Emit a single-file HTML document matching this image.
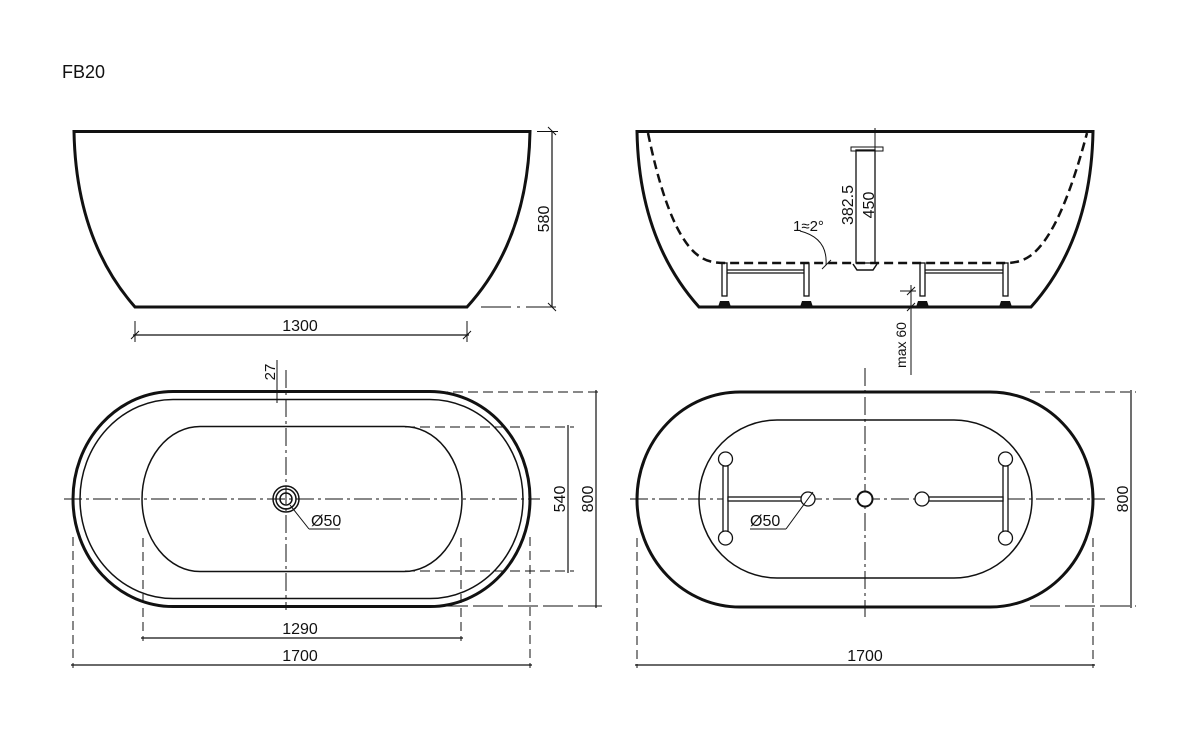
<!DOCTYPE html>
<html><head><meta charset="utf-8"><style>
html,body{margin:0;padding:0;background:#fff;}
svg{display:block;}
text{font-family:"Liberation Sans",sans-serif;fill:#111;}
</style></head><body>
<svg width="1200" height="754" viewBox="0 0 1200 754" xmlns="http://www.w3.org/2000/svg">
<g fill="none" stroke="#111" stroke-linecap="butt">
<text x="62" y="78" font-size="18" stroke="none">FB20</text>

<!-- Left side view -->
<path d="M74 131.5 L530 131.5 Q528 240 467 307 L135 307 Q76 240 74 131.5 Z" stroke-width="3"/>
<line x1="537" y1="131.5" x2="558" y2="131.5" stroke-width="1"/>
<line x1="481" y1="307" x2="557" y2="307" stroke-width="1" stroke-dasharray="30 6 3 6"/>
<line x1="552" y1="131" x2="552" y2="307" stroke-width="1.2"/>
<line x1="548" y1="127" x2="556" y2="135" stroke-width="1"/>
<line x1="548" y1="303" x2="556" y2="311" stroke-width="1"/>
<text transform="translate(549,219) rotate(-90)" font-size="16" text-anchor="middle" stroke="none">580</text>
<line x1="135" y1="321" x2="135" y2="342" stroke-width="1"/>
<line x1="467" y1="321" x2="467" y2="342" stroke-width="1"/>
<line x1="133" y1="335" x2="469" y2="335" stroke-width="1.2"/>
<line x1="131" y1="339" x2="139" y2="331" stroke-width="1"/>
<line x1="463" y1="339" x2="471" y2="331" stroke-width="1"/>
<text x="300" y="331" font-size="16" text-anchor="middle" stroke="none">1300</text>

<!-- Right side view -->
<path d="M637 131.5 L1093 131.5 Q1091 240 1031 307 L699 307 Q639 240 637 131.5 Z" stroke-width="3"/>
<path d="M648 133 Q670 240 702 258 Q710 263 725 263 L1006 263 Q1020 263 1030 256 Q1060 235 1087 133" stroke-width="2.5" stroke-dasharray="9 5"/>
<rect x="856" y="150" width="19" height="113" stroke-width="1.3"/>
<rect x="851" y="147" width="32" height="4" stroke-width="1"/>
<path d="M853 264 L857 270 L873 270 L877 264" stroke-width="1.5"/>
<line x1="875" y1="128" x2="875" y2="263" stroke-width="1"/>
<text transform="translate(853,205) rotate(-90)" font-size="16" text-anchor="middle" stroke="none">382.5</text>
<text transform="translate(874,205) rotate(-90)" font-size="16" text-anchor="middle" stroke="none">450</text>
<text x="793" y="231" font-size="15" stroke="none">1≈2°</text>
<path d="M800 231 Q828 238 826 265" stroke-width="1"/>
<line x1="822" y1="269" x2="831" y2="260" stroke-width="1"/>
<g stroke-width="1.3">
<rect x="722" y="263" width="5" height="33"/><rect x="804" y="263" width="5" height="33"/>
<line x1="727" y1="270" x2="804" y2="270"/><line x1="727" y1="273" x2="804" y2="273"/>
<rect x="920" y="263" width="5" height="33"/><rect x="1003" y="263" width="5" height="33"/>
<line x1="925" y1="270" x2="1003" y2="270"/><line x1="925" y1="273" x2="1003" y2="273"/>
</g>
<g fill="#111" stroke="none">
<path d="M718 307 L720 301 L729 301 L731 307Z"/><path d="M800 307 L802 301 L811 301 L813 307Z"/>
<path d="M916 307 L918 301 L927 301 L929 307Z"/><path d="M999 307 L1001 301 L1010 301 L1012 307Z"/>
</g>
<line x1="900" y1="291" x2="916" y2="291" stroke-width="1"/>
<line x1="911" y1="285" x2="911" y2="375" stroke-width="1"/>
<line x1="907" y1="295" x2="915" y2="287" stroke-width="1"/>
<line x1="907" y1="311" x2="915" y2="303" stroke-width="1"/>
<text transform="translate(906,345) rotate(-90)" font-size="14" text-anchor="middle" stroke="none">max 60</text>

<!-- Left top view -->
<path d="M173 391.5 L430 391.5 A100 107.5 0 0 1 430 606.5 L173 606.5 A100 107.5 0 0 1 173 391.5 Z" stroke-width="3"/>
<path d="M173 399.5 L430 399.5 A93 99.5 0 0 1 430 598.5 L173 598.5 A93 99.5 0 0 1 173 399.5 Z" stroke-width="1.5"/>
<path d="M200 426.5 L404 426.5 A58 72.5 0 0 1 404 571.5 L200 571.5 A58 72.5 0 0 1 200 426.5 Z" stroke-width="1.5"/>
<line x1="64" y1="499" x2="540" y2="499" stroke-width="1" stroke-dasharray="18 4 3 4"/>
<line x1="286" y1="370" x2="286" y2="610" stroke-width="1" stroke-dasharray="18 4 3 4"/>
<circle cx="286" cy="499" r="13" stroke-width="1.5"/>
<circle cx="286" cy="499" r="10" stroke-width="1.5"/>
<circle cx="286" cy="499" r="6" stroke-width="1.5"/>
<line x1="290" y1="505" x2="309" y2="529" stroke-width="1"/>
<line x1="309" y1="529" x2="340" y2="529" stroke-width="1"/>
<text x="311" y="526" font-size="16" stroke="none">Ø50</text>
<line x1="277" y1="360" x2="277" y2="403" stroke-width="1"/>
<text transform="translate(275,372) rotate(-90)" font-size="15" text-anchor="middle" stroke="none">27</text>
<line x1="405" y1="427" x2="574" y2="427" stroke-width="1" stroke-dasharray="10 5"/>
<line x1="405" y1="571" x2="574" y2="571" stroke-width="1" stroke-dasharray="10 5"/>
<line x1="568" y1="425" x2="568" y2="573" stroke-width="1.2"/>
<text transform="translate(565,499) rotate(-90)" font-size="16" text-anchor="middle" stroke="none">540</text>
<line x1="438" y1="392" x2="602" y2="392" stroke-width="1" stroke-dasharray="10 5"/>
<line x1="438" y1="606" x2="602" y2="606" stroke-width="1" stroke-dasharray="30 5"/>
<line x1="596" y1="390" x2="596" y2="608" stroke-width="1.2"/>
<text transform="translate(593,499) rotate(-90)" font-size="16" text-anchor="middle" stroke="none">800</text>
<line x1="73" y1="537" x2="73" y2="668" stroke-width="1" stroke-dasharray="9 5"/>
<line x1="530" y1="537" x2="530" y2="668" stroke-width="1" stroke-dasharray="9 5"/>
<line x1="143" y1="538" x2="143" y2="641" stroke-width="1" stroke-dasharray="9 5"/>
<line x1="461" y1="538" x2="461" y2="641" stroke-width="1" stroke-dasharray="9 5"/>
<line x1="141" y1="638" x2="463" y2="638" stroke-width="1.2"/>
<line x1="71" y1="665" x2="532" y2="665" stroke-width="1.2"/>
<text x="300" y="634" font-size="16" text-anchor="middle" stroke="none">1290</text>
<text x="300" y="661" font-size="16" text-anchor="middle" stroke="none">1700</text>

<!-- Right top view -->
<path d="M740 392 L990 392 A103 107.5 0 0 1 990 607 L740 607 A103 107.5 0 0 1 740 392 Z" stroke-width="3"/>
<path d="M777 420 L954 420 A78 79 0 0 1 954 578 L777 578 A78 79 0 0 1 777 420 Z" stroke-width="1.5"/>
<line x1="630" y1="499" x2="1105" y2="499" stroke-width="1" stroke-dasharray="18 4 3 4"/>
<line x1="865" y1="368" x2="865" y2="617" stroke-width="1" stroke-dasharray="18 4 3 4"/>
<g stroke-width="1.3" fill="#fff">
<rect x="723" y="466" width="5" height="66"/><rect x="1003" y="466" width="5" height="66"/>
<rect x="728" y="497" width="75" height="4"/><rect x="927" y="497" width="76" height="4"/>
<circle cx="725.5" cy="459" r="7"/><circle cx="725.5" cy="538" r="7"/>
<circle cx="1005.5" cy="459" r="7"/><circle cx="1005.5" cy="538" r="7"/>
<circle cx="808" cy="499" r="7"/><circle cx="922" cy="499" r="7"/>
<circle cx="865" cy="499" r="7.5" stroke-width="2"/>
</g>
<line x1="813" y1="492" x2="786" y2="529" stroke-width="1"/>
<line x1="750" y1="529" x2="786" y2="529" stroke-width="1"/>
<text x="750" y="526" font-size="16" stroke="none">Ø50</text>
<line x1="1030" y1="392" x2="1136" y2="392" stroke-width="1" stroke-dasharray="10 5"/>
<line x1="1030" y1="606" x2="1136" y2="606" stroke-width="1" stroke-dasharray="30 5"/>
<line x1="1131" y1="390" x2="1131" y2="608" stroke-width="1.2"/>
<text transform="translate(1128,499) rotate(-90)" font-size="16" text-anchor="middle" stroke="none">800</text>
<line x1="637" y1="538" x2="637" y2="668" stroke-width="1" stroke-dasharray="9 5"/>
<line x1="1093" y1="538" x2="1093" y2="668" stroke-width="1" stroke-dasharray="9 5"/>
<line x1="635" y1="665" x2="1095" y2="665" stroke-width="1.2"/>
<text x="865" y="661" font-size="16" text-anchor="middle" stroke="none">1700</text>
</g>
</svg>
</body></html>
